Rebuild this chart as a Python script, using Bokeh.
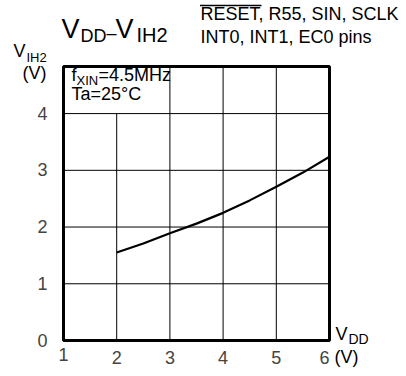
from bokeh.plotting import figure
from bokeh.models import Label, Range1d
from bokeh.embed import file_html
from bokeh.resources import INLINE

# ---- data ----
vdd = [2.0, 2.5, 3.0, 3.5, 4.0, 4.5, 5.0, 5.5, 6.0]
vih2 = [1.55, 1.71, 1.89, 2.06, 2.25, 2.47, 2.71, 2.96, 3.24]
x_ticks = [1, 2, 3, 4, 5, 6]
y_ticks = [0, 1, 2, 3, 4]
x_grid = [2, 3, 4, 5]
y_grid = [1, 2, 3, 4]
x_min, x_max = 1, 6
y_min, y_max = 0, 4.83

FONT = "Liberation Sans"
W, H = 406, 376
# plot box placement on the canvas (pixels)
BOX_L, BOX_R, BOX_T, BOX_B = 63, 329, 66, 340
sx = (BOX_R - BOX_L) / (x_max - x_min)
sy = (BOX_B - BOX_T) / (y_max - y_min)
xr = Range1d(x_min - BOX_L / sx, x_max + (W - BOX_R) / sx)
yr = Range1d(y_min - (H - BOX_B) / sy, y_max + BOX_T / sy)


def px2x(px):
    return xr.start + px / sx


def py2y(py):
    return yr.end - py / sy


p = figure(width=W, height=H, output_backend="svg", toolbar_location=None,
           x_range=xr, y_range=yr, min_border=0)
p.min_border_left = p.min_border_right = p.min_border_top = p.min_border_bottom = 0
p.xaxis.visible = False
p.yaxis.visible = False
p.grid.visible = False
p.background_fill_color = "white"
p.border_fill_color = "white"
p.outline_line_color = None

# grid lines (the x=2 line stops under the condition text)
v_top = [y_ticks[-1] if g == x_grid[0] else y_max for g in x_grid]
p.segment(x0=x_grid, y0=[y_min] * len(x_grid), x1=x_grid, y1=v_top,
          line_color="black", line_width=1)
p.segment(x0=[x_min] * len(y_grid), y0=y_grid, x1=[x_max] * len(y_grid), y1=y_grid,
          line_color="black", line_width=1)

# plot frame
p.quad(left=[x_min], right=[x_max], bottom=[y_min], top=[y_max],
       fill_color=None, line_color="black", line_width=3)

# curve
p.line(vdd, vih2, line_color="black", line_width=2.2)

SHIFT = 0.44  # text is laid out around its middle; convert from baseline


def lab(text, px, py, size, align="left"):
    """Place text by pixel coords (px, baseline py) from the top-left."""
    p.add_layout(Label(x=px, y=H - (py - SHIFT * size), x_units="screen",
                       y_units="screen", text=text, text_font=FONT,
                       text_font_size=f"{size}px", text_color="black",
                       text_baseline="alphabetic", text_align=align))


# tick labels through the data scales
for i, t in enumerate(x_ticks):
    d = 22 if i == 0 else 25.3
    dx = -5 if i == len(x_ticks) - 1 else 0
    p.add_layout(Label(x=t, y=y_min, text=str(t), text_font=FONT,
                       text_font_size="18px", text_align="center",
                       text_baseline="alphabetic", x_offset=dx,
                       y_offset=-(d - SHIFT * 18)))
for t in y_ticks:
    p.add_layout(Label(x=x_min, y=t, text=str(t), text_font=FONT,
                       text_font_size="18px", text_align="right",
                       text_baseline="alphabetic", x_offset=-16,
                       y_offset=-(7.5 - SHIFT * 18)))

# title
lab("V", 61, 40, 27)
lab("DD", 80, 43.5, 18)
lab("\u2013", 106, 40, 18)
lab("V", 115, 40, 27)
lab("IH2", 136, 43.5, 20)

# pin notes (RESET is active-low: overline)
lab("RESET, R55, SIN, SCLK", 200, 21.5, 18)
p.segment(x0=[px2x(199.5)], y0=[py2y(5)], x1=[px2x(261)], y1=[py2y(5)],
          line_color="black", line_width=1.6)
lab("INT0, INT1, EC0 pins", 200, 44.5, 18)

# y axis title
lab("V", 13, 58, 18)
lab("IH2", 26, 63, 13)
lab("(V)", 22, 80, 18)

# x axis title
lab("V", 335, 341, 18)
lab("DD", 348, 345, 14)
lab("(V)", 334, 364, 18)

# conditions
lab("f", 71, 82, 18)
lab("XIN", 76, 86, 13)
lab("=4.5MHz", 98, 82, 18)
lab("Ta=25\u00b0C", 71, 101, 18)

open("out.html", "w").write(file_html(p, INLINE))
